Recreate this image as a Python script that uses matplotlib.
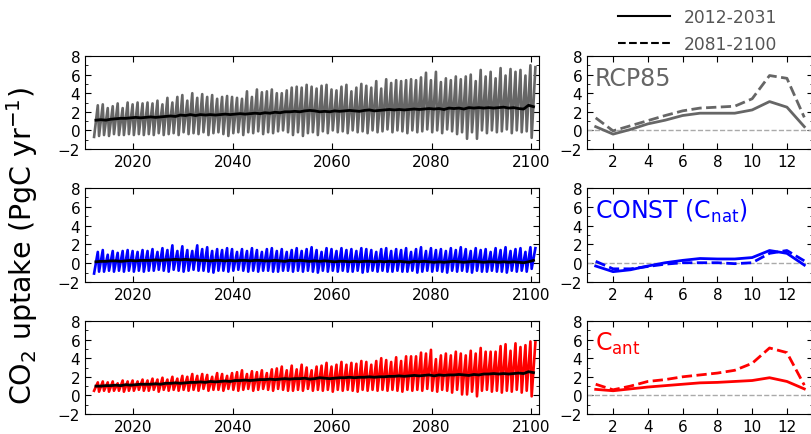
import numpy as np
import matplotlib
matplotlib.use("Agg")
import matplotlib.pyplot as plt
from matplotlib.ticker import MultipleLocator
from matplotlib.lines import Line2D

# years of the monthly record
years = np.arange(2012, 2101)

# RCP85: yearly peak (Nov), trough (Feb) and annual mean, PgC/yr
rcp_peak = [2.7, 2.8, 2.4, 2.6, 2.9, 2.4, 3.0, 2.8, 3.0, 2.9,
            3.0, 2.9, 3.2, 2.8, 3.5, 3.0, 3.6, 3.8, 3.2, 4.0,
            3.5, 3.9, 3.6, 3.8, 3.4, 3.6, 3.7, 3.6, 3.5, 3.4,
            4.2, 3.6, 4.4, 4.1, 4.2, 4.4, 4.0, 4.0, 4.3, 4.6,
            4.7, 4.6, 4.9, 4.7, 4.5, 4.8, 4.9, 4.4, 4.3, 4.7,
            4.9, 4.2, 4.6, 5.0, 4.8, 4.6, 5.3, 4.5, 5.5, 5.1,
            5.4, 5.3, 5.4, 5.5, 5.4, 5.7, 6.2, 5.4, 6.3, 5.2,
            5.6, 5.4, 5.8, 5.5, 5.8, 6.0, 5.3, 6.5, 5.8, 6.3,
            5.6, 6.7, 5.9, 6.6, 6.3, 6.5, 5.9, 7.0, 6.8]
rcp_trough = [-0.7, -0.6, -0.5, -0.6, -0.4, -0.5, -0.5, -0.4, -0.5, -0.4,
              -0.5, -0.4, -0.5, -0.3, -0.5, -0.4, -0.3, -0.5, -0.2, -0.4,
              -0.3, -0.4, -0.2, -0.5, -0.3, -0.2, -0.4, -0.6, -0.3, -0.2,
              -0.5, -0.2, -0.3, -0.1, -0.4, -0.2, -0.3, -0.1, 0.0, -0.2,
              -0.5, -0.2, -0.6, -0.3, -0.2, -0.5, -0.1, -0.3, 0.0, -0.2,
              -0.1, -0.3, 0.0, -0.2, -0.1, -0.3, 0.0, -0.2, -0.1, 0.1,
              -0.2, 0.0, -0.1, -0.3, 0.0, -0.2, -0.1, 0.1, -0.2, 0.0,
              -0.3, 0.1, -0.1, -0.4, -0.2, -0.9, -0.2, -0.9, 0.0, -0.3,
              0.0, -0.2, -0.1, 0.1, -0.3, 0.0, -0.2, -0.1, -0.8]
rcp_mean = [1.1, 1.15, 1.1, 1.2, 1.25, 1.3, 1.3, 1.35, 1.4, 1.35,
            1.4, 1.45, 1.4, 1.45, 1.5, 1.55, 1.5, 1.65, 1.6, 1.7,
            1.6, 1.7, 1.65, 1.7, 1.65, 1.7, 1.75, 1.7, 1.75, 1.8,
            1.75, 1.8, 1.85, 1.8, 1.9, 1.85, 1.95, 1.9, 2.0, 2.0,
            2.05, 2.0, 2.1, 2.15, 2.1, 2.0, 2.05, 2.0, 2.1, 2.05,
            2.1, 2.15, 2.1, 2.05, 2.15, 2.2, 2.1, 2.15, 2.2, 2.25,
            2.2, 2.25, 2.2, 2.25, 2.3, 2.25, 2.3, 2.35, 2.3, 2.35,
            2.25, 2.4, 2.35, 2.4, 2.3, 2.45, 2.4, 2.45, 2.4, 2.45,
            2.4, 2.45, 2.5, 2.4, 2.45, 2.35, 2.3, 2.7, 2.55]

# CONST (C_nat)
nat_peak = [1.2, 1.4, 0.9, 1.3, 1.1, 1.3, 1.4, 1.3, 1.2, 1.4,
            1.3, 1.5, 1.2, 1.6, 1.4, 1.9, 1.3, 1.8, 1.4, 1.3,
            1.9, 1.5, 1.7, 1.3, 1.5, 1.4, 1.6, 1.5, 1.2, 1.5,
            1.3, 1.6, 1.4, 1.2, 1.5, 1.6, 1.3, 1.5, 1.2, 1.4,
            1.6, 1.3, 1.5, 1.7, 1.4, 1.2, 1.6, 1.5, 1.3, 1.6,
            1.4, 1.5, 1.3, 1.6, 1.5, 1.4, 1.2, 1.5, 1.6, 1.3,
            1.5, 1.4, 1.6, 1.2, 1.5, 1.7, 1.3, 1.6, 1.4, 1.5,
            1.3, 1.6, 1.4, 1.7, 1.5, 1.3, 1.6, 1.4, 1.5, 1.2,
            1.6, 1.4, 1.7, 1.3, 1.5, 1.6, 1.2, 1.7, 1.6]
nat_trough = [-1.1, -0.9, -0.9, -0.8, -0.9, -0.8, -0.9, -0.8, -0.9, -0.8,
              -0.9, -0.8, -0.8, -0.7, -0.8, -0.9, -0.7, -0.8, -0.9, -0.8,
              -0.7, -0.8, -0.8, -0.9, -1.0, -0.8, -0.8, -0.9, -0.8, -0.7,
              -0.8, -0.9, -0.8, -0.9, -0.8, -0.8, -0.9, -0.9, -0.8, -0.8,
              -0.9, -0.8, -0.9, -0.8, -0.9, -1.0, -0.8, -0.9, -0.8, -0.9,
              -0.8, -0.9, -0.9, -0.8, -1.0, -0.9, -0.8, -0.9, -0.8, -0.9,
              -0.9, -0.8, -0.9, -0.9, -0.8, -1.0, -0.9, -0.8, -0.9, -0.8,
              -0.9, -1.0, -0.8, -0.9, -0.8, -0.9, -1.0, -0.8, -0.9, -0.9,
              -0.8, -0.9, -0.9, -1.0, -0.8, -0.9, -0.8, -0.9, -0.6]
nat_mean = [0.15, 0.2, 0.2, 0.25, 0.25, 0.2, 0.25, 0.3, 0.25, 0.3,
            0.3, 0.3, 0.35, 0.3, 0.35, 0.35, 0.4, 0.35, 0.4, 0.35,
            0.35, 0.3, 0.3, 0.25, 0.3, 0.3, 0.25, 0.3, 0.25, 0.3,
            0.3, 0.25, 0.3, 0.3, 0.25, 0.25, 0.3, 0.25, 0.2, 0.3,
            0.25, 0.3, 0.25, 0.2, 0.25, 0.2, 0.25, 0.2, 0.15, 0.2,
            0.2, 0.15, 0.2, 0.15, 0.2, 0.2, 0.15, 0.2, 0.15, 0.2,
            0.15, 0.2, 0.15, 0.1, 0.2, 0.15, 0.2, 0.15, 0.1, 0.15,
            0.1, 0.15, 0.2, 0.15, 0.1, 0.15, 0.2, 0.15, 0.1, 0.15,
            0.15, 0.1, 0.15, 0.1, 0.15, 0.1, 0.05, 0.15, 0.3]

# C_ant
ant_peak = [1.4, 1.5, 1.4, 1.5, 1.3, 1.6, 1.5, 1.6, 1.5, 1.7,
            1.6, 1.8, 1.7, 1.9, 1.7, 2.0, 1.8, 2.1, 2.0, 2.3,
            2.1, 2.3, 2.2, 2.0, 2.4, 2.3, 2.1, 2.4, 2.5, 2.7,
            2.3, 2.6, 2.5, 2.7, 2.4, 2.8, 2.9, 3.1, 2.7, 3.2,
            2.8, 3.3, 3.0, 2.7, 3.1, 3.2, 3.5, 3.1, 3.3, 3.6,
            3.3, 3.5, 3.4, 3.7, 3.6, 3.3, 3.7, 4.0, 3.8, 3.6,
            4.1, 3.7, 4.2, 4.2, 4.2, 4.6, 4.5, 4.9, 3.9, 4.3,
            4.5, 4.3, 4.7, 4.5, 4.3, 4.8, 4.5, 5.1, 4.7, 4.7,
            4.7, 5.3, 5.5, 4.8, 5.6, 5.2, 5.4, 5.8, 5.7]
ant_trough = [0.5, 0.4, 0.5, 0.4, 0.5, 0.5, 0.4, 0.5, 0.5, 0.6,
              0.5, 0.5, 0.6, 0.4, 0.6, 0.5, 0.6, 0.5, 0.6, 0.5,
              0.6, 0.5, 0.7, 0.5, 0.6, 0.6, 0.5, 0.7, 0.6, 0.5,
              0.6, 0.7, 0.5, 0.6, 0.7, 0.6, 0.5, 0.7, 0.6, 0.5,
              0.5, 0.6, 0.5, 0.7, 0.5, 0.6, 0.5, 0.6, 0.4, 0.6,
              0.5, 0.6, 0.5, 0.4, 0.6, 0.5, 0.6, 0.5, 0.6, 0.5,
              0.6, 0.5, 0.4, 0.6, 0.5, 0.6, 0.5, 0.7, 0.5, 0.4,
              0.6, 0.5, 0.3, 0.6, 0.1, 0.1, 0.4, -0.1, 0.5, 0.6,
              0.4, 0.5, 0.3, 0.5, 0.4, 0.6, 0.3, 0.5, -0.1]
ant_mean = [1.0, 1.0, 1.05, 1.05, 1.1, 1.05, 1.15, 1.1, 1.15, 1.2,
            1.2, 1.2, 1.25, 1.2, 1.3, 1.3, 1.35, 1.3, 1.35, 1.4,
            1.4, 1.45, 1.4, 1.5, 1.45, 1.5, 1.55, 1.5, 1.6, 1.6,
            1.65, 1.6, 1.65, 1.7, 1.7, 1.75, 1.7, 1.75, 1.8, 1.75,
            1.8, 1.8, 1.85, 1.75, 1.8, 1.9, 1.85, 1.8, 1.85, 1.9,
            1.9, 1.95, 1.9, 1.95, 1.95, 2.0, 1.95, 2.0, 2.0, 2.05,
            2.05, 2.1, 2.05, 2.1, 2.15, 2.1, 2.15, 2.2, 2.1, 2.2,
            2.15, 2.2, 2.2, 2.25, 2.2, 2.15, 2.25, 2.2, 2.3, 2.3,
            2.35, 2.3, 2.35, 2.3, 2.35, 2.4, 2.35, 2.55, 2.45]

# mean seasonal cycles (month 1..13)
months = np.arange(1, 14)
rcp_early = [0.4, -0.4, 0.1, 0.7, 1.1, 1.6, 1.85, 1.85, 1.85, 2.2, 3.1, 2.5, 0.4]
rcp_late = [1.35, -0.05, 0.5, 1.05, 1.6, 2.1, 2.4, 2.5, 2.6, 3.4, 5.9, 5.6, 1.4]
nat_early = [-0.3, -0.9, -0.7, -0.3, 0.05, 0.3, 0.5, 0.45, 0.45, 0.6, 1.35, 1.05, -0.2]
nat_late = [0.2, -0.6, -0.6, -0.35, -0.1, 0.05, 0.05, 0.05, -0.05, 0.05, 1.05, 1.35, 0.25]
ant_early = [0.65, 0.5, 0.7, 0.9, 1.05, 1.2, 1.35, 1.4, 1.5, 1.6, 1.9, 1.5, 0.7]
ant_late = [1.2, 0.6, 1.0, 1.5, 1.7, 2.0, 2.2, 2.4, 2.7, 3.45, 5.1, 4.6, 1.1]

panels = [
    (rcp_peak, rcp_trough, rcp_mean, rcp_early, rcp_late, "#666666", "RCP85"),
    (nat_peak, nat_trough, nat_mean, nat_early, nat_late, "#0000ff", r"CONST (C$_{\mathrm{nat}}$)"),
    (ant_peak, ant_trough, ant_mean, ant_early, ant_late, "#ff0000", r"C$_{\mathrm{ant}}$"),
]


def style_axis(ax):
    ax.set_ylim(-2, 8)
    ax.set_yticks([-2, 0, 2, 4, 6, 8])
    ax.yaxis.set_minor_locator(MultipleLocator(1))
    ax.tick_params(which="both", direction="in", top=True, right=True, labelsize=11)
    ax.tick_params(which="major", length=4)
    ax.tick_params(which="minor", length=2)


fig = plt.figure(figsize=(8.11, 4.35), dpi=100)
W, H = 811.0, 435.0
rows = [(57, 150), (189, 283), (322, 415)]

for (top, bot), (peak, trough, mean, early, late, col, name) in zip(rows, panels):
    # monthly series, drawn through the Feb trough and Nov peak of each year
    xs, ys = [], []
    for y, lo, hi in zip(years, trough, peak):
        xs += [y + 1.5 / 12, y + 10.5 / 12]
        ys += [lo, hi]
    ax = fig.add_axes([85 / W, 1 - bot / H, 454 / W, (bot - top) / H])
    ax.plot(xs, ys, color=col, lw=1.9)
    ax.plot(years + 0.5, mean, color="black", lw=2)
    ax.set_xlim(2010.3, 2101.6)
    ax.set_xticks([2020, 2040, 2060, 2080, 2100])
    style_axis(ax)

    # seasonal cycle
    ax2 = fig.add_axes([587 / W, 1 - bot / H, 226 / W, (bot - top) / H])
    ax2.axhline(0, color="#aaaaaa", lw=1, ls="--")
    ax2.plot(months, early, color=col, lw=2)
    ax2.plot(months, late, color=col, lw=2, ls="--")
    ax2.set_xlim(0.5, 13.5)
    ax2.set_xticks([2, 4, 6, 8, 10, 12])
    style_axis(ax2)
    ax2.text(0.035, 0.76, name, color=col, fontsize=17, transform=ax2.transAxes, va="center")

fig.text(22 / W, 0.435, r"CO$_2$ uptake (PgC yr$^{-1}$)", rotation=90,
         fontsize=20.5, ha="center", va="center")

handles = [Line2D([], [], color="black", lw=1.5),
           Line2D([], [], color="black", lw=1.5, ls="--")]
fig.legend(handles, ["2012-2031", "2081-2100"], loc="upper left",
           bbox_to_anchor=(603 / W, 1.015), frameon=False, fontsize=12.3,
           labelcolor="#555555", handlelength=3.0, handletextpad=0.8,
           labelspacing=0.55)

fig.savefig("out.png", dpi=100)
